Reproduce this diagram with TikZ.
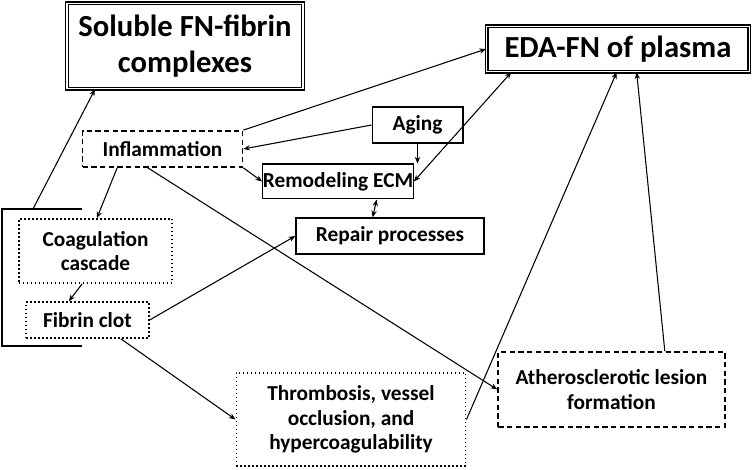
\documentclass[tikz,border=0pt]{standalone}
\usepackage{fontspec}
\setmainfont{Carlito}
\usetikzlibrary{arrows.meta}
\begin{document}
\begin{tikzpicture}[x=0.75pt,y=-0.75pt,
  box/.style={draw,line width=1pt,align=center,font=\bfseries\fontsize{16}{18.5}\selectfont,inner sep=0pt},
  big/.style={draw,double,double distance=1.2pt,line width=0.9pt,align=center,font=\bfseries\fontsize{23}{27}\selectfont,inner sep=0pt},
  dsh/.style={box,dash pattern=on 4pt off 2.5pt,line width=1.3pt},
  dot/.style={box,dotted,line width=1.2pt},
  ar/.style={-{Stealth[length=5pt,width=4pt]},line width=0.8pt},
  dar/.style={{Stealth[length=5pt,width=4pt]}-{Stealth[length=5pt,width=4pt]},line width=0.8pt}]
\fill[white] (0,0) rectangle (754,470);
\node[big,minimum width=177pt,minimum height=64pt] (sol) at (185,46) {Soluble FN-fibrin\\complexes};
\node[big,minimum width=197pt,minimum height=34pt] (eda) at (618,49) {EDA-FN of plasma};
\node[dsh,minimum width=120pt,minimum height=27pt] (inf) at (162.5,149) {Inflammation};
\node[box,minimum width=68pt,minimum height=27pt] (age) at (417.5,125) {Aging};
\node[box,minimum width=97pt,minimum height=26pt] (rem) at (338,181.5) {Remodeling ECM};
\node[box,minimum width=141pt,minimum height=27pt] (rep) at (390,236) {Repair processes};
\node[dot,minimum width=115pt,minimum height=48pt] (coa) at (95.5,251) {Coagulation\\cascade};
\node[dot,minimum width=92pt,minimum height=27pt] (fib) at (87.5,320) {Fibrin clot};
\node[dot,minimum width=172pt,minimum height=70pt] (thr) at (351,419.5) {Thrombosis, vessel\\occlusion, and\\hypercoagulability};
\node[dsh,minimum width=170pt,minimum height=56pt] (ath) at (611.5,389.5) {Atherosclerotic lesion\\formation};
\coordinate (b1) at (82,209);
\coordinate (b2) at (2,209);
\coordinate (b3) at (2,346);
\coordinate (b4) at (82,346);
\coordinate (bs) at (33,209);
\draw[line width=0.8pt] (b1) -- (b2) -- (b3) -- (b4);
\draw[ar] (bs) -- (sol.south west -| 95,0);
\draw[ar] (inf.north east) -- (eda.west);
\draw[ar] (age.west) -- (inf.east);
\draw[ar] (age.south) -- (age.south |- rem.north);
\draw[ar] (inf.south east) -- (rem.west);
\draw[dar] ([xshift=-80pt]eda.south) -- (rem.east);
\draw[dar] ([xshift=29pt]rem.south) -- ([xshift=-13pt]rep.north);
\draw[ar] ([xshift=-34pt]inf.south) -- ([xshift=1pt]coa.north);
\draw[ar] ([xshift=-10pt]coa.south) -- ([xshift=-14pt]fib.north);
\draw[ar] (fib.east) -- (rep.west);
\draw[ar] ([xshift=-11pt]inf.south) -- (ath.west);
\draw[ar] ([xshift=25pt]fib.south) -- (thr.west);
\draw[ar] (thr.east) -- ([xshift=-1pt]eda.south);
\draw[ar] ([xshift=40pt]ath.north) -- ([xshift=14pt]eda.south);
\end{tikzpicture}
\end{document}
